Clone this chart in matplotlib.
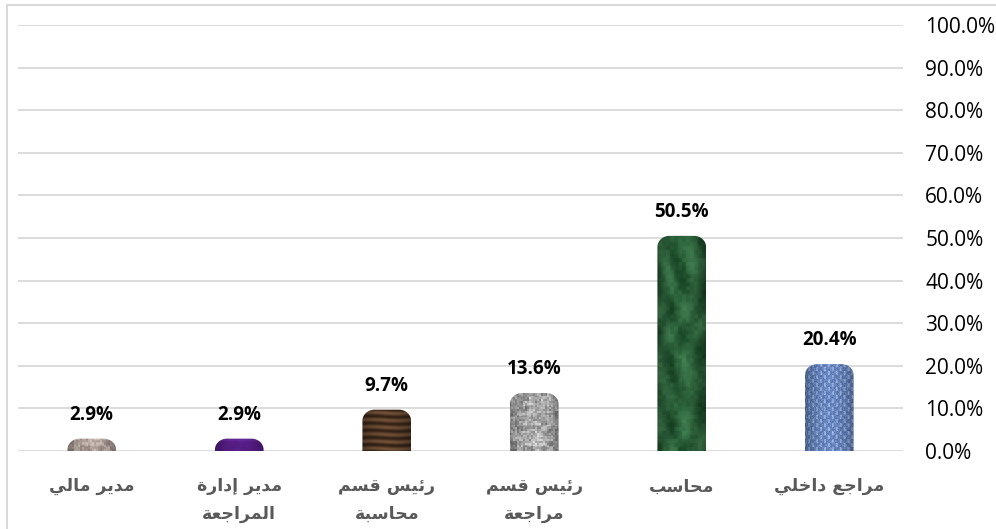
import numpy as np
import matplotlib
matplotlib.use("Agg")
import matplotlib.pyplot as plt
from matplotlib.path import Path
from matplotlib.patches import PathPatch, Rectangle

# job titles, first one sits on the right (Arabic reading order)
titles = ["مراجع داخلي", "محاسب", "رئيس قسم\nمراجعة", "رئيس قسم\nمحاسبة",
          "مدير إدارة\nالمراجعة", "مدير مالي"]
shares = [20.4, 50.5, 13.6, 9.7, 2.9, 2.9]
y_ticks = [0, 10, 20, 30, 40, 50, 60, 70, 80, 90, 100]

# fill texture for each bar: kind, dark colour, light colour
textures = [
    ("weave", (0.20, 0.33, 0.62), (0.68, 0.78, 0.93)),
    ("marble", (0.07, 0.24, 0.12), (0.27, 0.52, 0.33)),
    ("granite", (0.45, 0.45, 0.45), (0.90, 0.90, 0.90)),
    ("wood", (0.20, 0.13, 0.08), (0.45, 0.32, 0.22)),
    ("plain", (0.27, 0.06, 0.45), (0.45, 0.20, 0.66)),
    ("granite", (0.55, 0.49, 0.46), (0.85, 0.80, 0.77)),
]

# Arabic presentation forms: isolated, final, initial, medial
FORMS = {
    "ا": ("\uFE8D", "\uFE8E", None, None),
    "إ": ("\uFE87", "\uFE88", None, None),
    "ب": ("\uFE8F", "\uFE90", "\uFE91", "\uFE92"),
    "ة": ("\uFE93", "\uFE94", None, None),
    "ج": ("\uFE9D", "\uFE9E", "\uFE9F", "\uFEA0"),
    "ح": ("\uFEA1", "\uFEA2", "\uFEA3", "\uFEA4"),
    "خ": ("\uFEA5", "\uFEA6", "\uFEA7", "\uFEA8"),
    "د": ("\uFEA9", "\uFEAA", None, None),
    "ر": ("\uFEAD", "\uFEAE", None, None),
    "س": ("\uFEB1", "\uFEB2", "\uFEB3", "\uFEB4"),
    "ع": ("\uFEC9", "\uFECA", "\uFECB", "\uFECC"),
    "ق": ("\uFED5", "\uFED6", "\uFED7", "\uFED8"),
    "ل": ("\uFEDD", "\uFEDE", "\uFEDF", "\uFEE0"),
    "م": ("\uFEE1", "\uFEE2", "\uFEE3", "\uFEE4"),
    "ي": ("\uFEF1", "\uFEF2", "\uFEF3", "\uFEF4"),
    "ئ": ("\uFE89", "\uFE8A", "\uFE8B", "\uFE8C"),
}


def shape_line(line):
    out = []
    for i, ch in enumerate(line):
        if ch not in FORMS:
            out.append(ch)
            continue
        iso, fin, ini, med = FORMS[ch]
        prev = line[i - 1] if i > 0 else None
        nxt = line[i + 1] if i + 1 < len(line) else None
        after = prev in FORMS and FORMS[prev][2] is not None
        before = nxt in FORMS and ini is not None
        if after and before:
            out.append(med)
        elif after:
            out.append(fin)
        elif before:
            out.append(ini)
        else:
            out.append(iso)
    return "".join(out)[::-1]


def arabic(text):
    return "\n".join(shape_line(l) for l in text.split("\n"))


def texture(kind, dark, light, w, h):
    xx, yy = np.meshgrid(np.arange(w), np.arange(h))

    def grain(a, b, s):
        v = np.sin(a * 12.9898 + b * 78.233 + s) * 43758.5453
        return v - np.floor(v)

    if kind == "granite":
        n = 0.55 * grain(xx // 2, yy // 2, 1.0) + 0.45 * grain(xx // 6, yy // 5, 3.0)
    elif kind == "wood":
        n = 0.5 + 0.5 * np.sin(yy * 0.9 + 0.5 * np.sin(xx * 0.12))
    elif kind == "marble":
        n = (0.4 + 0.18 * np.sin(xx * 0.23 + yy * 0.06 + 2.0 * np.sin(yy * 0.05))
             + 0.18 * np.sin(yy * 0.11 - xx * 0.13 + 1.5 * np.sin(xx * 0.09))
             + 0.25 * grain(xx // 4, yy // 4, 5.0))
        n = np.clip(n, 0, 1)
    elif kind == "weave":
        block = ((xx // 4) + (yy // 4)) % 2
        n = 0.25 + 0.45 * block * (0.5 + 0.5 * np.sin(xx * 1.6)) + 0.3 * grain(xx, yy, 2.0)
    else:
        n = 0.35 + 0.3 * (yy > h - 4) + 0.1 * grain(xx // 3, yy // 3, 7.0)
    dark = np.array(dark)
    light = np.array(light)
    rgb = dark + (light - dark) * n[..., None]
    shade = 0.72 + 0.28 * np.sin(np.pi * (xx + 0.5) / w)
    return np.clip(rgb * shade[..., None], 0, 1)


fig = plt.figure(figsize=(9.96, 5.29), dpi=100)
ax = fig.add_axes([18 / 996, 78 / 529, 885 / 996, 426 / 529])

x = np.arange(len(titles))
bars = ax.bar(x, shares, width=0.33, alpha=0)

# pixels per data unit, used for the rounded caps
px_x = 885 / len(titles)
px_y = 426 / 100
kappa = 0.5523

for rect, (kind, dark, light), v in zip(bars, textures, shares):
    x0 = rect.get_x()
    x1 = x0 + rect.get_width()
    top = rect.get_height()
    rx = 12 / px_x
    ry = min(11 / px_y, top)
    verts = [(x0, 0), (x0, top - ry),
             (x0, top - ry + kappa * ry), (x0 + rx - kappa * rx, top), (x0 + rx, top),
             (x1 - rx, top),
             (x1 - rx + kappa * rx, top), (x1, top - ry + kappa * ry), (x1, top - ry),
             (x1, 0), (x0, 0)]
    codes = [Path.MOVETO, Path.LINETO,
             Path.CURVE4, Path.CURVE4, Path.CURVE4,
             Path.LINETO,
             Path.CURVE4, Path.CURVE4, Path.CURVE4,
             Path.LINETO, Path.CLOSEPOLY]
    cap = PathPatch(Path(verts, codes), facecolor="none", edgecolor="none", zorder=3)
    ax.add_patch(cap)
    w_px = int(round(rect.get_width() * px_x))
    h_px = max(int(round(top * px_y)), 2)
    img = ax.imshow(texture(kind, dark, light, w_px, h_px), extent=(x0, x1, 0, top),
                    origin="lower", aspect="auto", interpolation="bilinear", zorder=3)
    img.set_clip_path(cap)
    ax.annotate(f"{v:.1f}%", (rect.get_x() + rect.get_width() / 2, top),
                xytext=(0, 10), textcoords="offset points", ha="center", va="bottom",
                fontsize=13.5, fontweight="bold", family="Open Sans", color="black")

ax.set_xlim(len(titles) - 0.5, -0.5)
ax.set_ylim(0, 100)

ax.set_yticks(y_ticks)
ax.set_yticklabels([f"{t:.1f}%" for t in y_ticks], family="Open Sans", fontsize=15,
                   color="black")
ax.yaxis.tick_right()
ax.tick_params(axis="y", length=0, pad=16)
ax.grid(axis="y", color="#d9d9d9", linewidth=1.3, zorder=0)
ax.set_axisbelow(True)

ax.set_xticks(x)
ax.set_xticklabels([arabic(t) for t in titles], family="DejaVu Sans", fontweight="bold",
                   fontsize=12.5, color="#595959", linespacing=1.65)
ax.tick_params(axis="x", length=0, pad=19)

for side in ax.spines.values():
    side.set_visible(False)

# light chart-area border
fig.add_artist(Rectangle((7 / 996, -0.1), 1.2, 1.1 - 5 / 529, transform=fig.transFigure,
                         fill=False, edgecolor="#d9d9d9", linewidth=1.5))

fig.savefig("out.png", dpi=100)
